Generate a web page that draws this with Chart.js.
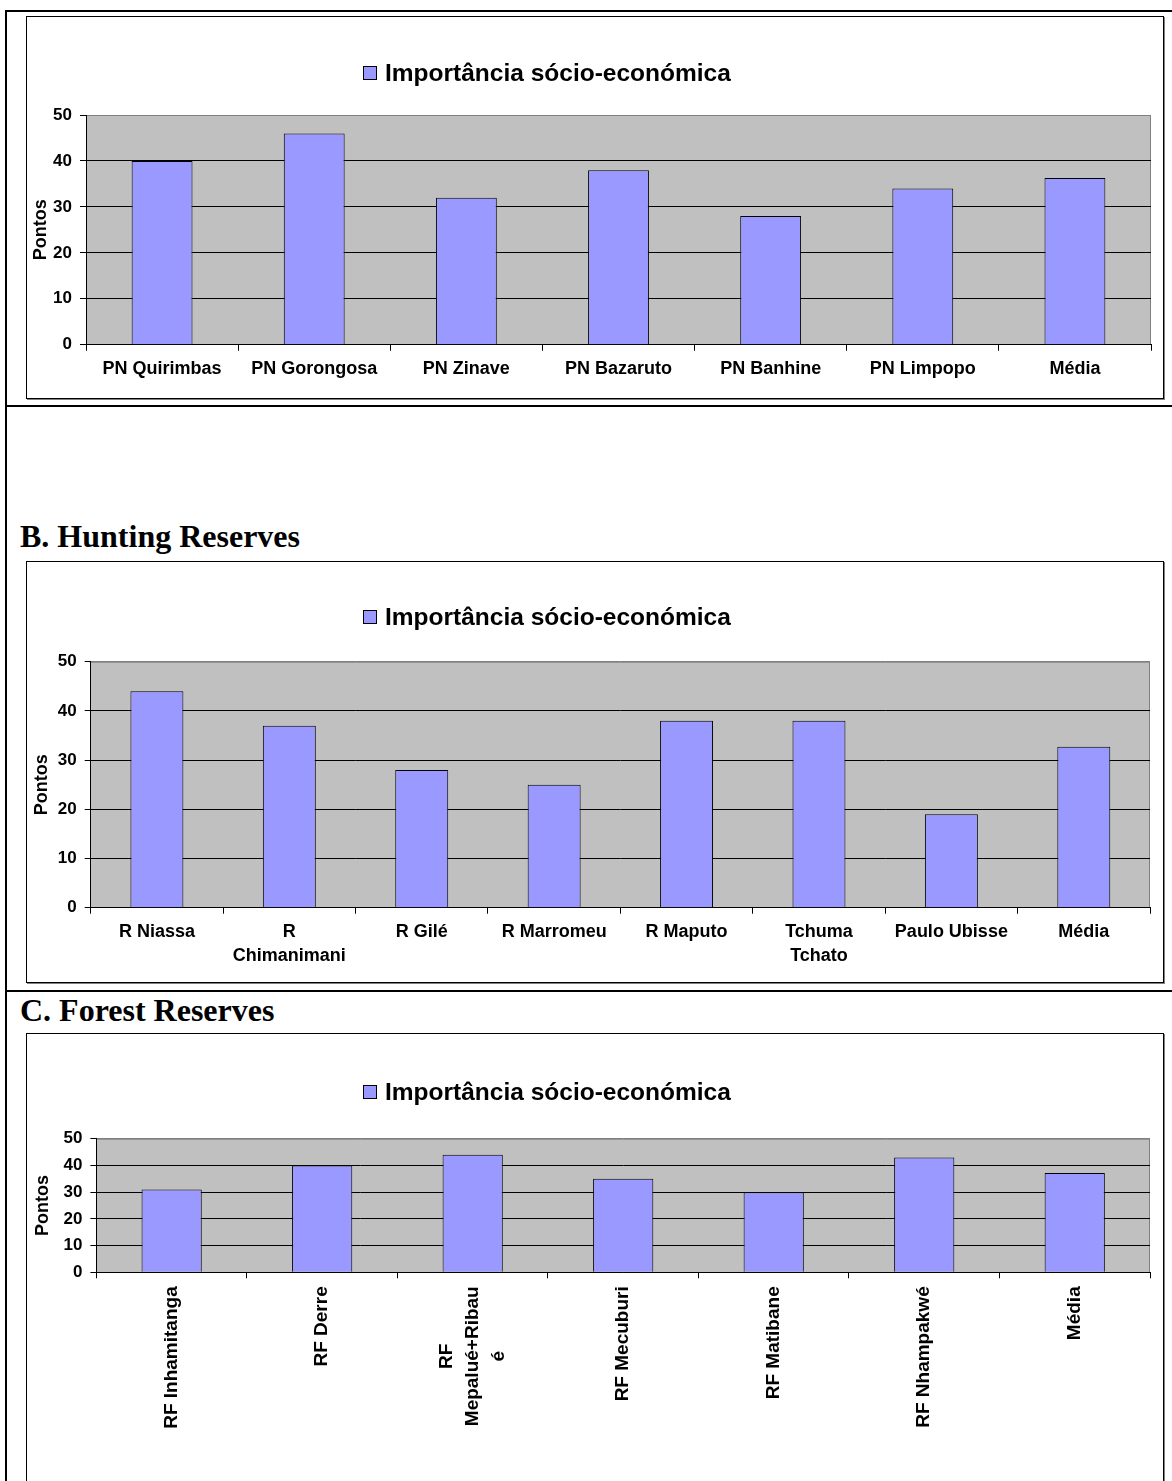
<!DOCTYPE html>
<html>
<head>
<meta charset="utf-8">
<script src="https://cdn.jsdelivr.net/npm/chart.js@4.4.1/dist/chart.umd.min.js"></script>
<style>
  html, body { margin: 0; padding: 0; background: #fff; }
  body { position: relative; width: 1172px; height: 1481px; overflow: hidden; }
  .rule { position: absolute; background: #000; }
  .frame { position: absolute; box-sizing: border-box; border: 1px solid #000;
           box-shadow: 1px 1px 0 #808080; background: #fff; }
  .frame canvas { position: absolute; left: 0; top: 0; }
  h2 { position: absolute; margin: 0; white-space: nowrap; color: #000;
       font: bold 32px/32px "Liberation Serif", "Times New Roman", serif; }
</style>
</head>
<body>
<!-- table rules of the page -->
<div class="rule" style="left:5px;top:10px;width:2px;height:1471px"></div>
<div class="rule" style="left:5px;top:10px;width:1167px;height:2px"></div>
<div class="rule" style="left:5px;top:405px;width:1167px;height:2px"></div>
<div class="rule" style="left:5px;top:990px;width:1167px;height:2px"></div>

<div class="frame" style="left:26px;top:16px;width:1138px;height:383px">
  <canvas id="chartA" width="1136" height="381"></canvas>
</div>

<h2 style="left:20px;top:520px">B. Hunting Reserves</h2>
<div class="frame" style="left:26px;top:561px;width:1138px;height:422px">
  <canvas id="chartB" width="1136" height="420"></canvas>
</div>

<h2 style="left:20px;top:994px">C. Forest Reserves</h2>
<div class="frame" style="left:26px;top:1033px;width:1138px;height:480px">
  <canvas id="chartC" width="1136" height="470"></canvas>
</div>

<script>
// ---- data ----
const seriesLabel = 'Importância sócio-económica';
const axisTitle = 'Pontos';
const yMin = 0;
const yMax = 50;
const yStep = 10;

// A. National parks
const catsA = ['PN Quirimbas', 'PN Gorongosa', 'PN Zinave', 'PN Bazaruto', 'PN Banhine', 'PN Limpopo', 'Média'];
const valsA = [40, 46, 32, 38, 28, 34, 36.3];

// B. Hunting reserves
const catsB = ['R Niassa', ['R', 'Chimanimani'], 'R Gilé', 'R Marromeu', 'R Maputo', ['Tchuma', 'Tchato'], 'Paulo Ubisse', 'Média'];
const valsB = [44, 37, 28, 25, 38, 38, 19, 32.7];

// C. Forest reserves
const catsC = ['RF Inhamitanga', 'RF Derre', ['RF', 'Mepalué+Ribau', 'é'], 'RF Mecuburi', 'RF Matibane', 'RF Nhampakwé', 'Média'];
const valsC = [31, 40, 44, 35, 30, 43, 37.2];

// ---- drawing ----
const SANS = '"Liberation Sans", Arial, Helvetica, sans-serif';
Chart.defaults.font.family = SANS;
Chart.defaults.color = '#000';

// grey plot area with a grey frame on top and right
const plotBg = {
  id: 'plotBg',
  beforeDraw(chart) {
    const { ctx, chartArea: a } = chart;
    ctx.save();
    ctx.fillStyle = '#C0C0C0';
    ctx.fillRect(a.left, a.top, a.right - a.left, a.bottom - a.top);
    ctx.strokeStyle = '#808080';
    ctx.lineWidth = 1;
    ctx.beginPath();
    ctx.moveTo(a.left, a.top + 0.5);
    ctx.lineTo(a.right - 0.5, a.top + 0.5);
    ctx.lineTo(a.right - 0.5, a.bottom);
    ctx.stroke();
    ctx.restore();
  }
};

// rotated category labels with several lines: centre the block on its tick
// and centre each line along the label
const centerRotatedLines = {
  id: 'centerRotatedLines',
  beforeDraw(chart) {
    const scale = chart.scales.x;
    if (!scale || !scale.labelRotation) return;
    const items = scale.getLabelItems(chart.chartArea);
    const ctx = chart.ctx;
    items.forEach((it) => {
      if (!Array.isArray(it.label) || it.label.length < 2 || it._centred) return;
      ctx.save();
      ctx.font = it.font.string;
      const w = Math.max(...it.label.map((s) => ctx.measureText(s).width));
      ctx.restore();
      it.options.textAlign = 'center';
      it.options.translation[1] += w / 2;
      it.options.translation[0] -= (it.label.length - 1) / 2 * it.font.lineHeight;
      it._centred = true;
    });
  }
};

// single legend entry placed above the plot
const legendKey = {
  id: 'legendKey',
  afterDraw(chart, args, opts) {
    const ds = chart.data.datasets[0];
    const ctx = chart.ctx;
    ctx.save();
    ctx.fillStyle = ds.backgroundColor;
    ctx.fillRect(opts.x, opts.y - 7, 14, 14);
    ctx.strokeStyle = '#000';
    ctx.lineWidth = 1;
    ctx.strokeRect(opts.x + 0.5, opts.y - 6.5, 13, 13);
    ctx.font = 'bold 24.5px ' + SANS;
    ctx.fillStyle = '#000';
    ctx.textAlign = 'left';
    ctx.textBaseline = 'middle';
    ctx.fillText(ds.label, opts.x + 22, opts.y + 1);
    ctx.restore();
  }
};

function makeChart(id, labels, values, g) {
  return new Chart(document.getElementById(id), {
    type: 'bar',
    data: {
      labels: labels,
      datasets: [{
        label: seriesLabel,
        data: values,
        backgroundColor: '#9999FF',
        borderColor: '#000',
        borderWidth: 1,
        borderSkipped: 'start',
        barPercentage: 0.4,
        categoryPercentage: 1
      }]
    },
    options: {
      responsive: false,
      animation: false,
      devicePixelRatio: 1,
      layout: { padding: { left: 0, right: g.padRight, top: g.top, bottom: 0 } },
      plugins: {
        legend: { display: false },
        tooltip: { enabled: false },
        legendKey: { x: g.legendX, y: g.legendY }
      },
      scales: {
        x: {
          grid: { offset: true, drawOnChartArea: false, drawTicks: true, tickLength: 6, color: '#000', lineWidth: 1 },
          border: { display: true, color: '#000', width: 1 },
          ticks: {
            autoSkip: false,
            maxRotation: g.rot,
            minRotation: g.rot,
            padding: g.xPad,
            color: '#000',
            font: { family: SANS, weight: 'bold', size: g.xFont, lineHeight: g.xLine }
          },
          afterFit(s) { s.height = g.xHeight; }
        },
        y: {
          min: yMin,
          max: yMax,
          ticks: {
            stepSize: yStep,
            autoSkip: false,
            padding: 8,
            color: '#000',
            font: { family: SANS, weight: 'bold', size: 17 }
          },
          grid: {
            color: (c) => (c.tick && c.tick.value === yMax ? '#808080' : '#000'),
            tickColor: '#000',
            tickLength: 6,
            drawTicks: true,
            lineWidth: 1
          },
          border: { display: true, color: '#000', width: 1 },
          title: {
            display: true,
            text: axisTitle,
            color: '#000',
            font: { family: SANS, weight: 'bold', size: 18 },
            padding: { top: g.titlePad, bottom: 0 }
          },
          afterFit(s) { s.width = g.yWidth; }
        }
      }
    },
    plugins: [plotBg, centerRotatedLines, legendKey]
  });
}

makeChart('chartA', catsA, valsA, {
  top: 98, padRight: 12, yWidth: 59, xHeight: 53.3,
  rot: 0, xPad: 6.5, xFont: 18, xLine: 1.35,
  legendX: 336, legendY: 56, titlePad: 3.5
});

makeChart('chartB', catsB, valsB, {
  top: 99.7, padRight: 13, yWidth: 63.7, xHeight: 74.3,
  rot: 0, xPad: 6, xFont: 18, xLine: 1.35,
  legendX: 336, legendY: 55, titlePad: 3.9
});

makeChart('chartC', catsC, valsC, {
  top: 104.7, padRight: 13, yWidth: 69.4, xHeight: 231.7,
  rot: 90, xPad: 8, xFont: 19, xLine: 1.35,
  legendX: 336, legendY: 58, titlePad: 5.2
});
</script>
</body>
</html>
